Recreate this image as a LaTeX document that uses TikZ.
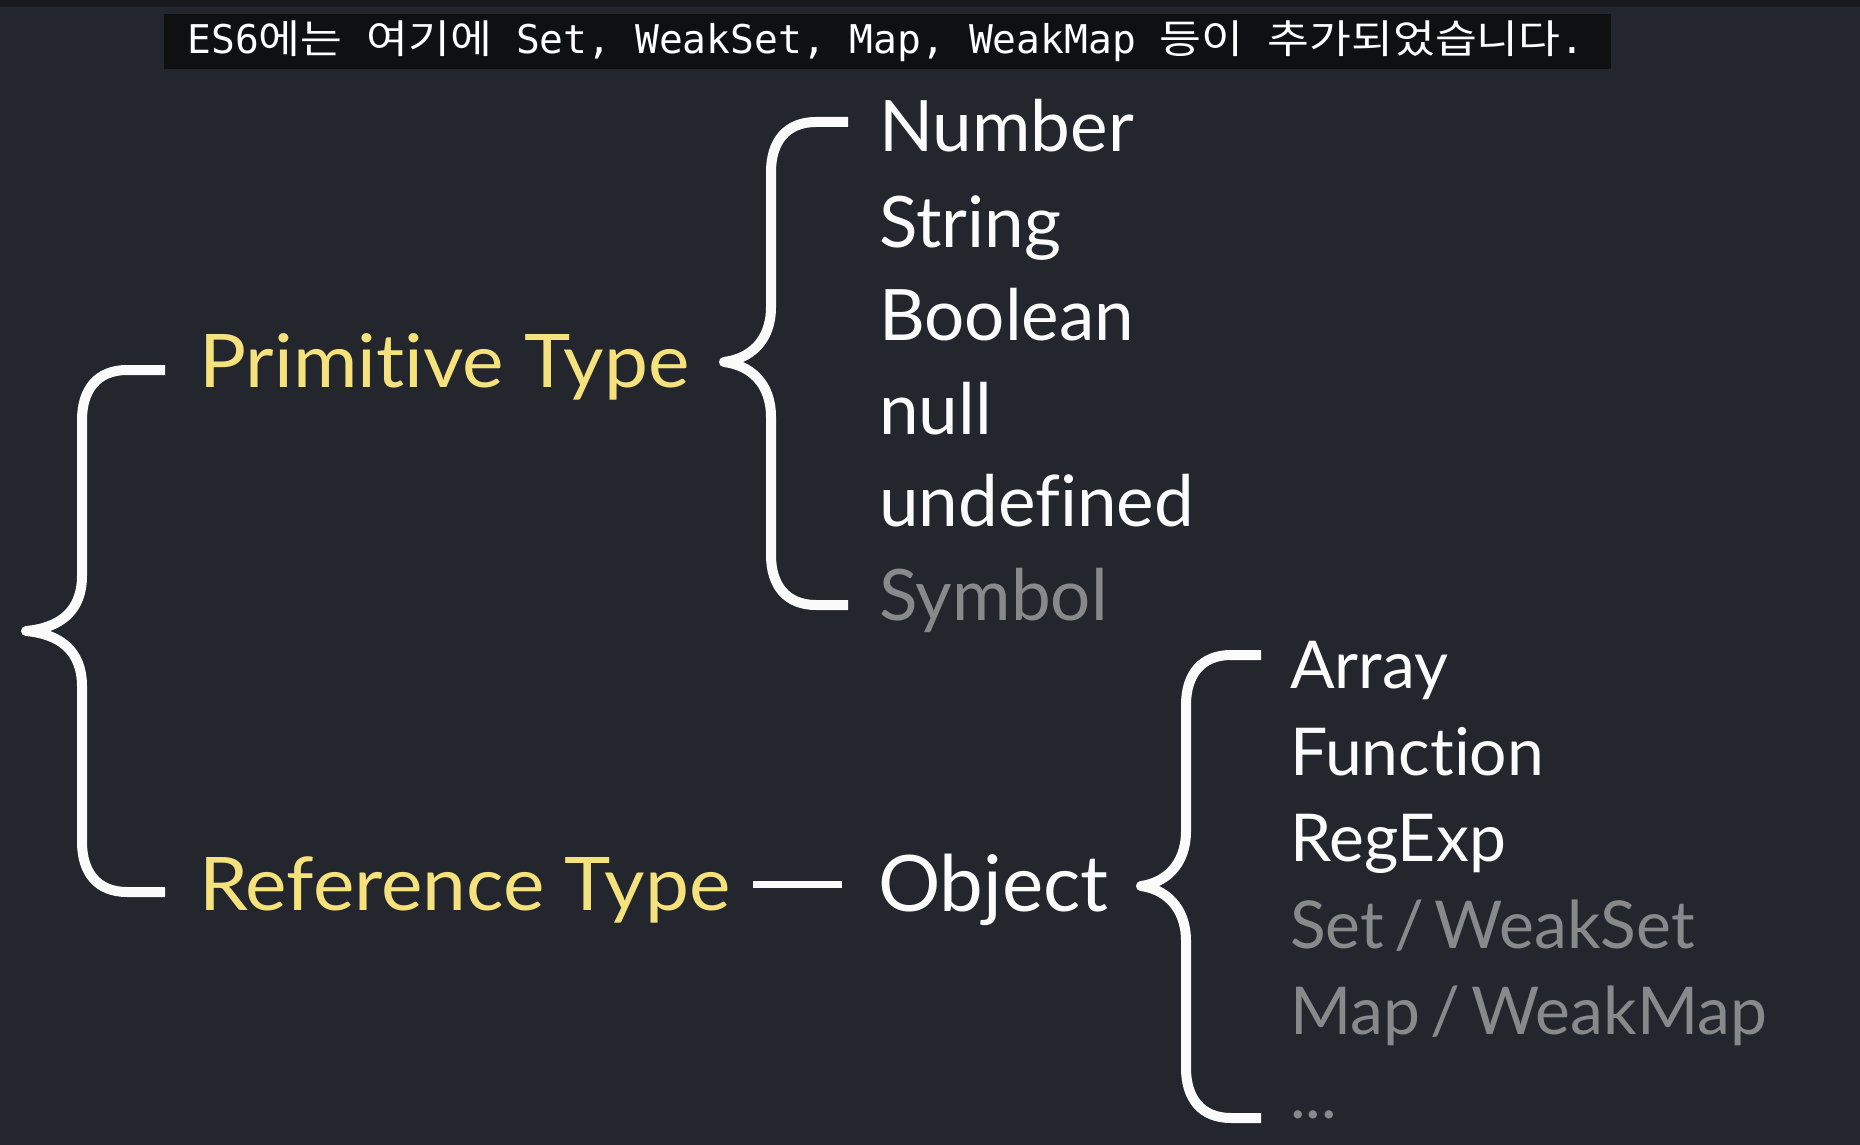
\documentclass[tikz,border=0pt]{standalone}
\usepackage{fontspec}
\usepackage{graphicx}
\setmainfont[Ligatures={NoCommon}]{Lato}
\newfontfamily\typefont[Ligatures={NoCommon},FakeStretch=1.06]{Lato}
\newfontfamily\cjk[FakeStretch=1.15]{Noto Sans CJK KR}
\newfontfamily\capmono{DejaVu Sans Mono}
\definecolor{bgcol}{HTML}{23262C}
\definecolor{stripcol}{HTML}{18191C}
\definecolor{capcol}{HTML}{0F1012}
\definecolor{yel}{HTML}{F5E27C}
\definecolor{dim}{HTML}{88898B}
\definecolor{wht}{HTML}{FBFBFB}
\tikzset{
  bracestyle/.style={draw=wht, line width=10pt, line join=round},
  dashline/.style={draw=wht, line width=7pt},
  itemA/.style={anchor=base west, inner sep=0pt, text=wht, font=\fontsize{71}{80}\selectfont},
  itemB/.style={anchor=base west, inner sep=0pt, text=wht, font=\fontsize{66}{75}\selectfont},
  typelabel/.style={anchor=base west, inner sep=0pt, text=yel, font=\typefont\fontsize{74}{82}\selectfont},
  objlabel/.style={anchor=base west, inner sep=0pt, text=wht, font=\fontsize{78}{88}\selectfont},
  captext/.style={inner sep=0pt, text=white}
}
\newcommand\slsp{\hspace{10.5pt}}
\newcommand\drawbrace[6]{% xe, yt, yb, xv, xt, ym
  \draw[bracestyle] (#1,#2) -- ({#4+45},#2)
    .. controls ({#4+15},#2) and (#4,{#2+20}) .. (#4,{#2+50})
    -- (#4,{#6-55})
    .. controls (#4,{#6-20}) and ({#4-22},{#6-3}) .. (#5,#6)
    .. controls ({#4-22},{#6+3}) and (#4,{#6+20}) .. (#4,{#6+55})
    -- (#4,{#3-50})
    .. controls (#4,{#3-20}) and ({#4+15},#3) .. ({#4+45},#3)
    -- (#1,#3);}
\begin{document}
\begin{tikzpicture}[x=1pt,y=-1pt]
\fill[bgcol] (0,0) rectangle (1860,1145);
\useasboundingbox (0,0) rectangle (1860,1145);
\fill[stripcol] (0,0) rectangle (1860,7);
\fill[capcol] (164,14) rectangle (1611,69);
\node[captext] (cap) at (886,41) {\resizebox{1397pt}{!}{\capmono ES6{\cjk 에는} {\cjk 여기에} Set, WeakSet, Map, WeakMap {\cjk 등이} {\cjk 추가되었습니다}.}};

% type labels
\node[typelabel] (prim) at (199,387) {Primitive Type};
\node[typelabel] (ref) at (199,910) {Reference Type};
\node[objlabel] (obj) at (878,911) {Object};

% primitive items
\node[itemA] (num) at (879,152) {Number};
\node[itemA] (str) at (879,247) {String};
\node[itemA] (bool) at (879,340) {Boolean};
\node[itemA] (nul) at (879,434) {null};
\node[itemA] (undef) at (879,526) {undefined};
\node[itemA, text=dim] (sym) at (879,620) {Symbol};

% object items
\node[itemB] (arr) at (1290,688) {Array};
\node[itemB] (fun) at (1290,775) {Function};
\node[itemB] (reg) at (1290,861) {RegExp};
\node[itemB, text=dim] (set) at (1290,948) {Set\slsp/\slsp WeakSet};
\node[itemB, text=dim] (map) at (1290,1034) {Map\slsp/\slsp WeakMap};
\node[itemB, text=dim] (dots) at (1290,1118) {...};

% braces
\drawbrace{165}{370}{892}{82}{26}{631}
\drawbrace{848}{122}{605}{771}{724}{362}
\drawbrace{1261}{655}{1118}{1186}{1141}{886}

% dash between Reference Type and Object
\coordinate (d1) at (753,884);
\coordinate (d2) at (842,884);
\draw[dashline] (d1) -- (d2);
\end{tikzpicture}
\end{document}
